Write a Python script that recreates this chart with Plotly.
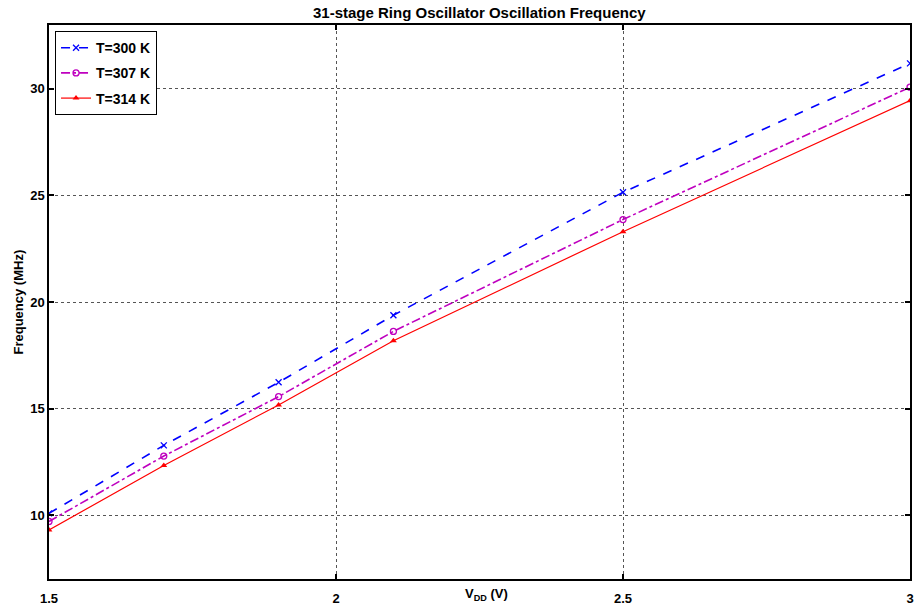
import plotly.graph_objects as go

# Supply voltage sweep (V)
vdd = [1.5, 1.7, 1.9, 2.1, 2.5, 3.0]

# Oscillation frequency (MHz) at each temperature
freq_300k = [10.08, 13.27, 16.23, 19.38, 25.15, 31.2]
freq_307k = [9.7, 12.77, 15.56, 18.62, 23.87, 30.08]
freq_314k = [9.3, 12.33, 15.17, 18.18, 23.3, 29.45]

series_names = ["T=300 K", "T=307 K", "T=314 K"]

x_ticks = [1.5, 2, 2.5, 3]
y_ticks = [10, 15, 20, 25, 30]

FONT = "Liberation Sans, Arial, sans-serif"

fig = go.Figure()

fig.add_trace(go.Scatter(
    x=vdd, y=freq_300k, name=series_names[0], mode="lines+markers", legendgroup="a",
    line=dict(color="#0000ff", width=1.6, dash="dash"),
    marker=dict(symbol="x-thin", size=6, line=dict(color="#0000ff", width=1.3)),
))
fig.add_trace(go.Scatter(
    x=vdd, y=freq_307k, name=series_names[1], mode="lines+markers", legendgroup="b",
    line=dict(color="#bf00bf", width=1.6, dash="dashdot"),
    marker=dict(symbol="circle-open", size=6, line=dict(color="#bf00bf", width=1.3)),
))
fig.add_trace(go.Scatter(
    x=vdd, y=freq_314k, name=series_names[2], mode="lines+markers", legendgroup="c",
    line=dict(color="#ff0000", width=1.2),
    marker=dict(symbol="triangle-up", size=6, color="#ff0000"),
))

axis_common = dict(
    showline=True, linecolor="black", linewidth=1.5, mirror="ticks",
    ticks="inside", ticklen=5, tickwidth=1.5, tickcolor="black",
    showgrid=True, gridcolor="#555555", gridwidth=1, griddash="dot",
    zeroline=False,
    tickfont=dict(family=FONT, size=13, color="black", weight="bold"),
)

fig.update_xaxes(range=[1.5, 3.0], tickvals=x_ticks, ticktext=[str(v) for v in x_ticks],
                 ticklabelstandoff=7, **axis_common)
fig.update_yaxes(range=[7, 33], tickvals=y_ticks, ticktext=[str(v) for v in y_ticks],
                 **axis_common)

fig.update_layout(
    width=919, height=611,
    margin=dict(l=49, r=5, t=25, b=31),
    paper_bgcolor="white", plot_bgcolor="white",
    showlegend=True,
    legend=dict(
        x=0.007, y=0.989, xanchor="left", yanchor="top",
        bgcolor="white", bordercolor="black", borderwidth=1,
        font=dict(family=FONT, size=14, color="black", weight="bold"),
        itemwidth=30, tracegroupgap=4,
    ),
    annotations=[
        dict(text="<b>31-stage Ring Oscillator Oscillation Frequency</b>",
             xref="paper", yref="paper", x=0.5, y=1, yanchor="bottom", yshift=2,
             showarrow=False, font=dict(family=FONT, size=15, color="black")),
        dict(text="<b>V<sub>DD</sub> (V)</b>",
             xref="paper", yref="paper", x=0.508, y=0, yanchor="top", yshift=-5,
             showarrow=False, font=dict(family=FONT, size=13, color="black")),
        dict(text="<b>Frequency (MHz)</b>", textangle=-90,
             xref="paper", yref="paper", x=0, y=0.5, xanchor="right", xshift=-22,
             showarrow=False, font=dict(family=FONT, size=13, color="black")),
    ],
)

fig.write_html("out.html")
